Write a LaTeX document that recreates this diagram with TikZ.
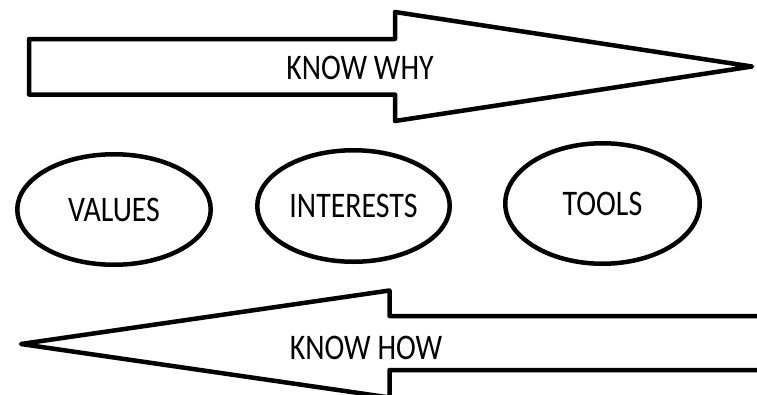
\documentclass[tikz,border=0pt]{standalone}
\usepackage{fontspec}
\setmainfont{Carlito}[FakeStretch=0.83]
\usetikzlibrary{shapes.geometric}

\begin{document}
\begin{tikzpicture}[x=1pt, y=-1pt, line width=4.5pt, line join=round,
	oval/.style={draw, ellipse, inner sep=0pt},
	caption/.style={font=\fontsize{36}{36}\selectfont, inner sep=0pt}]
	\useasboundingbox (0, 0) rectangle (757, 394);
	\clip (0, 0) rectangle (757, 394);

	\draw (29, 39) -- (395, 39) -- (395, 12) -- (752, 66.5) -- (395, 121) -- (395, 94.5) -- (29, 94.5) -- cycle;
	\node[caption] (why) at (360, 68) {KNOW WHY};

	\node[oval, minimum width=193.5, minimum height=110.5, caption] (values) at (114, 209.5) {VALUES};
	\node[oval, minimum width=192.5, minimum height=111.5, caption] (interests) at (353.5, 206) {INTERESTS};
	\node[oval, minimum width=194.5, minimum height=120.5, caption] (tools) at (602.5, 203.5) {TOOLS};

	\draw (765, 316) -- (389.5, 316) -- (389.5, 290.5) -- (21, 344) -- (389.5, 397.5) -- (389.5, 370) -- (765, 370);
	\node[caption] (how) at (366, 348) {KNOW HOW};
\end{tikzpicture}
\end{document}
